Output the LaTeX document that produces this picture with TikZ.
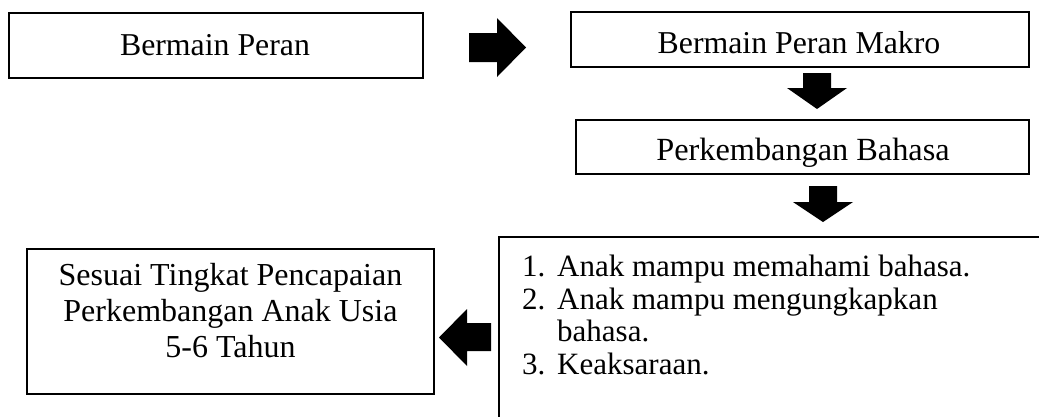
\documentclass[tikz,border=0pt]{standalone}
\usepackage{fontspec}
\setmainfont{Liberation Serif}
\begin{document}
\begin{tikzpicture}[x=1pt,y=-1pt,
  box/.style={draw=black,line width=2pt,inner sep=0pt,anchor=north west},
  lbl/.style={font=\fontsize{31.8}{36}\selectfont,inner sep=0pt},
  blockarrow/.style={fill=black,draw=none}]
\useasboundingbox[fill=white] (0,0) rectangle (1039,416);

% boxes
\node[box,minimum width=414pt,minimum height=65pt] (b1) at (8,12) {};
\node[box,minimum width=458pt,minimum height=55pt] (b2) at (570,11) {};
\node[box,minimum width=453pt,minimum height=54pt] (b3) at (575,119) {};
\node[box,minimum width=407pt,minimum height=145pt] (b4) at (26,248) {};
\draw[line width=2pt] (499,432) coordinate (b5sw) -- (499,237) coordinate (b5nw) -- (1045,237) coordinate (b5ne);

% texts
\node[lbl,anchor=base] (t1) at (215,55) {Bermain Peran};
\node[lbl,anchor=base] (t2) at (799,53) {Bermain Peran Makro};
\node[lbl,anchor=base,font=\fontsize{32.3}{36}\selectfont] (t3) at (803,160) {Perkembangan Bahasa};
\node[lbl,align=center,anchor=center,font=\fontsize{32}{36}\selectfont] (t4) at ([yshift=11pt]b4.center)
  {Sesuai Tingkat Pencapaian\\Perkembangan Anak Usia\\5-6 Tahun};
\node[lbl,align=left,anchor=north west,font=\fontsize{31}{32.5}\selectfont] (t5) at (522,255)
  {\makebox[35pt][l]{1.}Anak mampu memahami bahasa.\\
   \makebox[35pt][l]{2.}Anak mampu mengungkapkan\\
   \makebox[35pt][l]{}bahasa.\\
   \makebox[35pt][l]{3.}Keaksaraan.};

% block arrows
\fill[blockarrow] (469,33) -- (497,33) -- (497,18) -- (526,47.5) -- (497,77) -- (497,62) -- (469,62) -- cycle;
\fill[blockarrow] (803,73) -- (831,73) -- (831,88) -- (847,88) -- (817,109) -- (787,88) -- (803,88) -- cycle;
\fill[blockarrow] (809,186) -- (837,186) -- (837,202) -- (853,202) -- (823,222) -- (793,202) -- (809,202) -- cycle;
\fill[blockarrow] (491,323) -- (467,323) -- (467,309) -- (439,337.5) -- (467,366) -- (467,351) -- (491,351) -- cycle;
\end{tikzpicture}
\end{document}
